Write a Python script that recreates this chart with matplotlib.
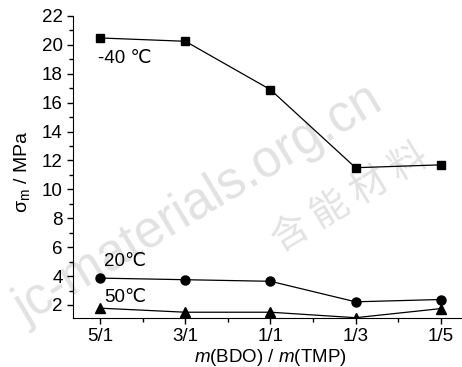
import matplotlib
matplotlib.use("Agg")
import matplotlib.pyplot as plt
from matplotlib.ticker import MultipleLocator

fam = "Liberation Sans"
plt.rcParams['font.family'] = [fam, 'DejaVu Sans']
plt.rcParams['mathtext.fontset'] = 'custom'
plt.rcParams['mathtext.rm'] = fam
plt.rcParams['mathtext.it'] = fam + ':italic'

ratios = ["5/1", "3/1", "1/1", "1/3", "1/5"]
s_m40 = [20.48, 20.25, 16.9, 11.5, 11.7]
s_20 = [3.86, 3.75, 3.64, 2.22, 2.38]
s_50 = [1.78, 1.5, 1.5, 1.12, 1.75]

fig = plt.figure(figsize=(4.62, 3.67), dpi=100)

# faint watermark behind the chart
fig.text(198/462, 1 - 205/367, "jc-materials.org.cn", rotation=31, fontsize=37,
         color='#e2e2e2', ha='center', va='center', zorder=0)
fig.text(350/462, 1 - 198/367, "含 能 材 料", rotation=31, fontsize=27,
         color='#e2e2e2', ha='center', va='center', zorder=0,
         family=['Noto Sans CJK SC', 'DejaVu Sans'])

ax = fig.add_axes([73/462, 1 - 318/367, 389/462, (318 - 16)/367])
ax.set_zorder(2)
ax.set_facecolor('none')
x = range(len(ratios))
ax.plot(x, s_m40, 'k-s', lw=0.9, ms=5.5)
ax.plot(x, s_20, 'k-o', lw=0.9, ms=6.5)
ax.plot(x, s_50, 'k-^', lw=0.9, ms=6.5)

ax.set_xlim(-0.32, 4.25)
ax.set_ylim(1.1, 22)
ax.set_xticks(list(x))
ax.set_xticklabels(ratios)
ax.xaxis.set_minor_locator(MultipleLocator(0.5))
ax.set_yticks(range(2, 23, 2))
ax.yaxis.set_minor_locator(MultipleLocator(1))
ax.tick_params(direction='out', labelsize=13.5, length=4.5, width=1, pad=3)
ax.tick_params(which='minor', direction='out', length=3, width=1)
ax.spines['top'].set_visible(False)
ax.spines['right'].set_visible(False)

ax.text(-0.03, 19.05, "-40 ℃", fontsize=13.5, va='center', ha='left')
ax.text(0.05, 5.0, "20℃", fontsize=13.5, va='center', ha='left')
ax.text(0.05, 2.5, "50℃", fontsize=13.5, va='center', ha='left')

fig.text(22/462, 1 - 172/367, "σ$_{\\mathrm{m}}$ / MPa", rotation=90,
         fontsize=14, ha='center', va='center', zorder=3)
fig.text(270/462, 1 - 357/367, r"$\mathit{m}$(BDO) / $\mathit{m}$(TMP)",
         fontsize=13.5, ha='center', va='center', zorder=3)

fig.savefig("out.png", dpi=100)
